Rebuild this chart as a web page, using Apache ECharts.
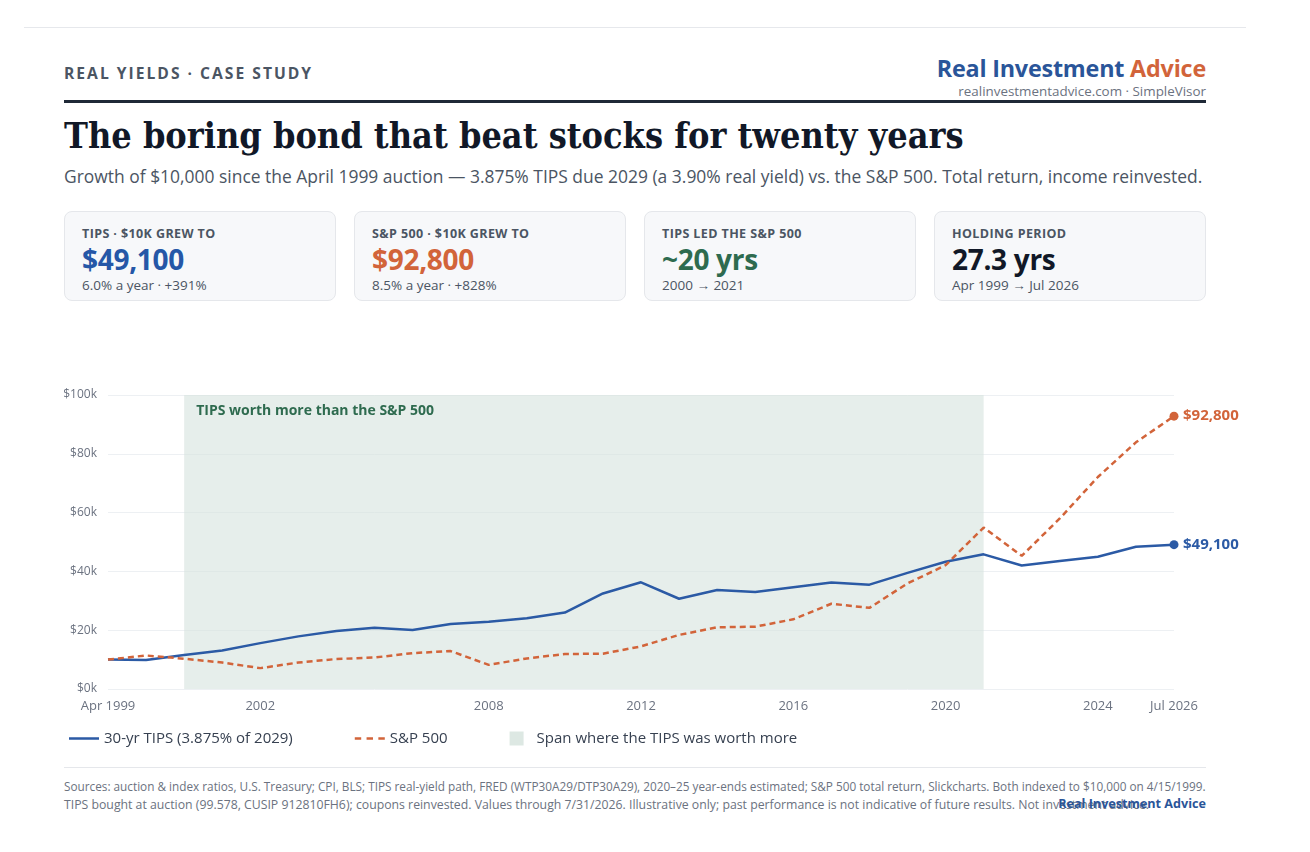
<!DOCTYPE html>
<html>
<head>
<meta charset="utf-8">
<script src="https://cdn.jsdelivr.net/npm/echarts@6/dist/echarts.min.js"></script>
<style>
  html,body{margin:0;padding:0;background:#fff;}
  body{width:1310px;height:852px;position:relative;overflow:hidden;font-family:"Open Sans","Noto Sans",sans-serif;color:#1f2937;}
  .abs{position:absolute;white-space:nowrap;}
  #topline{left:24px;top:27px;width:1222px;height:1px;background:#e6e8ec;}
  #eyebrow{left:64px;top:62px;font-size:14px;font-weight:700;letter-spacing:2px;color:#4b5563;}
  #brand{right:104px;top:52px;font-size:21px;font-weight:700;color:#2a5599;letter-spacing:-0.2px;}
  #brand span{color:#d2643a;}
  #brandsub{right:104px;top:84px;font-size:11px;line-height:14px;color:#6b7280;}
  #rule{left:64px;top:100px;width:1142px;height:3px;background:#1f2937;}
  #title{left:64px;top:114px;font-family:"DejaVu Serif Condensed","DejaVu Serif",serif;font-weight:700;font-size:33px;color:#111827;}
  #subtitle{left:64px;top:164px;font-size:16px;color:#4b5563;}
  .card{position:absolute;top:211px;width:272px;height:90px;background:#f7f8fa;border:1px solid #e5e7eb;border-radius:8px;box-sizing:border-box;}
  .card .lab{position:absolute;left:17px;top:13px;font-size:12.5px;font-weight:700;color:#4b5563;letter-spacing:0.4px;white-space:nowrap;}
  .card .val{position:absolute;left:17px;top:28px;font-size:28px;font-weight:700;white-space:nowrap;letter-spacing:-0.3px;}
  .card .sub{position:absolute;left:17px;top:64px;font-size:13.5px;color:#4b5563;white-space:nowrap;}
  #chart{position:absolute;left:0;top:380px;width:1310px;height:380px;}
  #footrule{left:64px;top:767px;width:1142px;height:1px;background:#e5e7eb;}
  .foot{left:64px;font-size:11px;color:#6b7280;}
  #f1{top:778px;}
  #f2{top:796px;}
  #footbrand{right:104px;top:795px;font-size:12px;font-weight:700;color:#2a5599;}
</style>
</head>
<body>
<div class="abs" id="topline"></div>
<div class="abs" id="eyebrow">REAL YIELDS · CASE STUDY</div>
<div class="abs" id="brand">Real Investment <span>Advice</span></div>
<div class="abs" id="brandsub">realinvestmentadvice.com · SimpleVisor</div>
<div class="abs" id="rule"></div>
<div class="abs" id="title">The boring bond that beat stocks for twenty years</div>
<div class="abs" id="subtitle">Growth of $10,000 since the April 1999 auction — 3.875% TIPS due 2029 (a 3.90% real yield) vs. the S&amp;P 500. Total return, income reinvested.</div>

<div class="card" style="left:64px"><div class="lab">TIPS · $10K GREW TO</div><div class="val" style="color:#2557a7">$49,100</div><div class="sub">6.0% a year · +391%</div></div>
<div class="card" style="left:354px"><div class="lab">S&amp;P 500 · $10K GREW TO</div><div class="val" style="color:#d2643a">$92,800</div><div class="sub">8.5% a year · +828%</div></div>
<div class="card" style="left:644px"><div class="lab">TIPS LED THE S&amp;P 500</div><div class="val" style="color:#2e6b4f">~20 yrs</div><div class="sub">2000 → 2021</div></div>
<div class="card" style="left:934px"><div class="lab">HOLDING PERIOD</div><div class="val" style="color:#111827">27.3 yrs</div><div class="sub">Apr 1999 → Jul 2026</div></div>

<div id="chart"></div>

<div class="abs" id="footrule"></div>
<div class="abs foot" id="f1">Sources: auction &amp; index ratios, U.S. Treasury; CPI, BLS; TIPS real-yield path, FRED (WTP30A29/DTP30A29), 2020–25 year-ends estimated; S&amp;P 500 total return, Slickcharts. Both indexed to $10,000 on 4/15/1999.</div>
<div class="abs foot" id="f2">TIPS bought at auction (99.578, CUSIP 912810FH6); coupons reinvested. Values through 7/31/2026. Illustrative only; past performance is not indicative of future results. Not investment advice.</div>
<div class="abs" id="footbrand">Real Investment Advice</div>

<script>
// ---- data ----
const categories = ["Apr 1999","1999","2000","2001","2002","2003","2004","2005","2006","2007","2008","2009","2010","2011","2012","2013","2014","2015","2016","2017","2018","2019","2020","2021","2022","2023","2024","2025","Jul 2026"];
const tipsValues = [10000,9900,11600,13100,15600,17900,19700,20800,20100,22100,22900,24100,26000,32500,36300,30700,33700,33000,34600,36200,35500,39500,43300,45800,42000,43500,45000,48400,49100];
const spValues   = [10000,11400,10300,9000,7100,9000,10200,10700,12200,12900,8200,10400,11900,12000,14500,18400,21000,21200,23700,29000,27600,35900,42100,54900,45300,58000,72100,83900,92800];
const tickLabels = ["Apr 1999","2002","2008","2012","2016","2020","2024","Jul 2026"];
const spanStart = "2000", spanEnd = "2021";
const tipsName = "30-yr TIPS (3.875% of 2029)";
const spName = "S&P 500";
const spanName = "Span where the TIPS was worth more";
const spanLabel = "TIPS worth more than the S&P 500";

// fit text widths to the reference layout
function fit(id, w){const el=document.getElementById(id);let fs=parseFloat(getComputedStyle(el).fontSize);for(let i=0;i<30;i++){const r=el.getBoundingClientRect().width;if(Math.abs(r-w)<1)break;fs=fs*w/r;el.style.fontSize=fs+'px';}}
fit('title',900); fit('subtitle',1139); fit('f1',1142); fit('f2',1085);
fit('eyebrow',250); fit('brand',269); fit('brandsub',248); fit('footbrand',148);

const blue="#2b5aa5", orange="#d2643a";
const last = categories.length-1;
const fmt = v => "$" + Math.round(v).toLocaleString("en-US");
const chart = echarts.init(document.getElementById('chart'), null, {renderer:'canvas'});
chart.setOption({
  animation:false,
  textStyle:{fontFamily:'"Open Sans","Noto Sans",sans-serif'},
  grid:{left:108,right:136,top:15,bottom:71,containLabel:false},
  legend:{
    left:64, top:346, itemWidth:30, itemHeight:14, itemGap:62, symbolKeepAspect:true,
    textStyle:{fontSize:15,color:"#374151"},
    data:[
      {name:tipsName, icon:'path://M0,6H30V8.5H0Z', itemStyle:{color:blue}},
      {name:spName, icon:'path://M0,6H6V8.5H0ZM11,6H17V8.5H11ZM22,6H28V8.5H22Z', itemStyle:{color:orange}},
      {name:spanName, icon:'path://M0,0H14V14H0Z', itemStyle:{color:"#dde8e3"}}
    ]
  },
  xAxis:{
    type:'category', data:categories, boundaryGap:false,
    axisLine:{show:false}, axisTick:{show:false},
    axisLabel:{color:"#6b7280",fontSize:13,margin:11,
      interval:(i,v)=>tickLabels.includes(v)},
    splitLine:{show:false}
  },
  yAxis:{
    type:'value', min:0, max:100000, interval:20000,
    axisLine:{show:false}, axisTick:{show:false},
    axisLabel:{color:"#6b7280",fontSize:12,margin:11,formatter:v=>"$"+(v/1000)+"k"},
    splitLine:{lineStyle:{color:"#edf0f3",width:1}}
  },
  series:[
    {name:spanName,type:'line',data:[],itemStyle:{color:"#dde8e3"}},
    {name:tipsName,type:'line',data:tipsValues,z:3,
      lineStyle:{color:blue,width:2.5},itemStyle:{color:blue},
      symbol:(v,p)=>p.dataIndex===last?'circle':'none',symbolSize:9,showSymbol:true,
      endLabel:{show:true,formatter:p=>fmt(p.value),color:blue,fontWeight:700,fontSize:15,distance:9},
      markArea:{silent:true,itemStyle:{color:"rgba(214,227,221,0.6)"},
        label:{show:true,position:'insideTopLeft',distance:0,offset:[12,9],color:"#2e6b4f",fontWeight:700,fontSize:14},
        data:[[{name:spanLabel,xAxis:spanStart},{xAxis:spanEnd}]]}
    },
    {name:spName,type:'line',data:spValues,z:4,
      lineStyle:{color:orange,width:2.5,type:[6,4]},itemStyle:{color:orange},
      symbol:(v,p)=>p.dataIndex===last?'circle':'none',symbolSize:9,showSymbol:true,
      endLabel:{show:true,formatter:p=>fmt(p.value),color:orange,fontWeight:700,fontSize:15,distance:9}
    }
  ]
});
</script>
</body>
</html>
